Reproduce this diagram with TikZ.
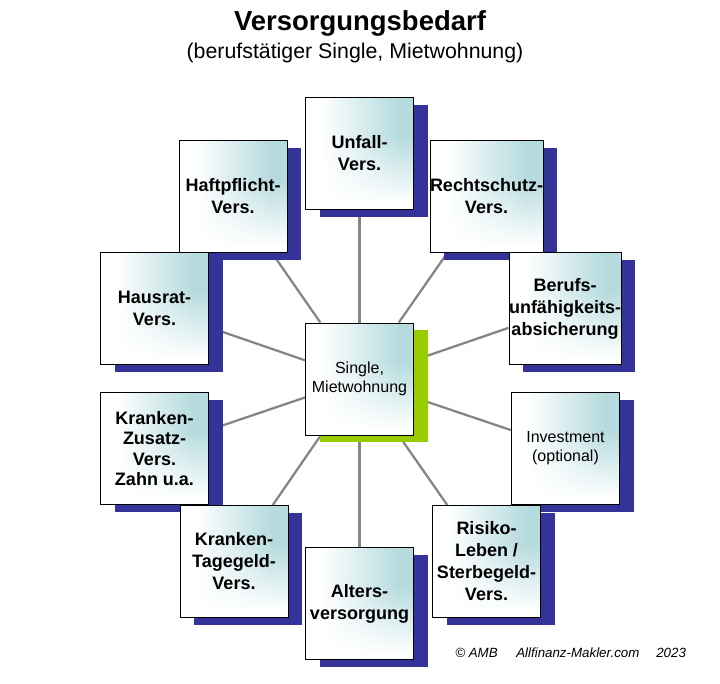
\documentclass[tikz,border=0pt]{standalone}
\usepackage{fontspec}
\setmainfont{Liberation Sans}
\usetikzlibrary{shadows,backgrounds}
\definecolor{shadowblue}{HTML}{333399}
\definecolor{shadowgreen}{HTML}{99CC00}
\definecolor{linkgray}{HTML}{858585}
% white at the left and bottom, light teal towards the top right
\pgfdeclarefunctionalshading{boxshade}{\pgfpoint{0bp}{0bp}}{\pgfpoint{100bp}{100bp}}{}{
  25 sub 50 div 0.05 sub 0.6 div dup 0 lt {pop 0} if dup 1 gt {pop 1} if
  exch
  25 sub 50 div 0.15 sub 0.7 div dup 0 lt {pop 0} if dup 1 gt {pop 1} if
  mul
  dup 0.285 mul 1 exch sub
  exch dup 0.140 mul 1 exch sub
  exch 0.128 mul 1 exch sub
}

\begin{document}
\begin{tikzpicture}[x=0.75pt,y=-0.75pt,
box/.style={draw=black,line width=0.75pt,shade,shading=boxshade,minimum width=81pt,minimum height=84pt,inner sep=0pt,align=center,font=\fontsize{13.5}{16.5}\selectfont\bfseries},
ins/.style={box,general shadow={fill=shadowblue,shadow xshift=10.5pt,shadow yshift=-5.25pt}},
hub/.style={box,font=\fontsize{12}{14.25}\selectfont,general shadow={fill=shadowgreen,shadow xshift=10.5pt,shadow yshift=-5.25pt}},
link/.style={draw=linkgray,line width=1.7pt}]
\useasboundingbox (0,0) rectangle (720,683);
\node[anchor=base,font=\fontsize{20.6}{24}\selectfont\bfseries] (title) at (360,30) {Versorgungsbedarf};
\node[anchor=base,font=\fontsize{16}{19}\selectfont] (subtitle) at (355,58) {(berufstätiger Single, Mietwohnung)};
\node[hub] (single) at (359.5,379) {Single,\\Mietwohnung};
\node[ins] (unfall) at (359.5,153.5) {Unfall-\\Vers.};
\node[ins] (recht) at (486.5,196.5) {Rechtschutz-\\Vers.};
\node[ins] (beruf) at (565,308.5) {Berufs-\\unfähigkeits-\\absicherung};
\node[ins,font=\fontsize{12}{14.25}\selectfont] (invest) at (565.5,448.5) {Investment\\(optional)};
\node[ins] (risiko) at (486.5,561.5) {Risiko-\\Leben /\\Sterbegeld-\\Vers.};
\node[ins] (alter) at (359.5,603.5) {Alters-\\versorgung};
\node[ins] (haft) at (233,196.5) {Haftpflicht-\\Vers.};
\node[ins] (hausrat) at (154.5,308.5) {Hausrat-\\Vers.};
\node[ins,font=\fontsize{13.5}{15.4}\selectfont\bfseries] (zusatz) at (154.5,448.5) {Kranken-\\Zusatz-\\Vers.\\Zahn u.a.};
\node[ins] (tagegeld) at (234,561.5) {Kranken-\\Tagegeld-\\Vers.};
% footer
\node[anchor=base west,inner sep=0pt,font=\fontsize{10}{12}\selectfont\itshape] (copy) at (455,657) {© AMB};
\node[anchor=base west,inner sep=0pt,font=\fontsize{10}{12}\selectfont\itshape] (web) at (516,657) {Allfinanz-Makler.com};
\node[anchor=base west,inner sep=0pt,font=\fontsize{10}{12}\selectfont\itshape] (year) at (656,657) {2023};
\begin{pgfonlayer}{background}
\foreach \n in {unfall,recht,beruf,invest,risiko,alter,tagegeld,zusatz,hausrat,haft}
  \draw[link] (single) -- (\n);
\end{pgfonlayer}
\end{tikzpicture}
\end{document}
